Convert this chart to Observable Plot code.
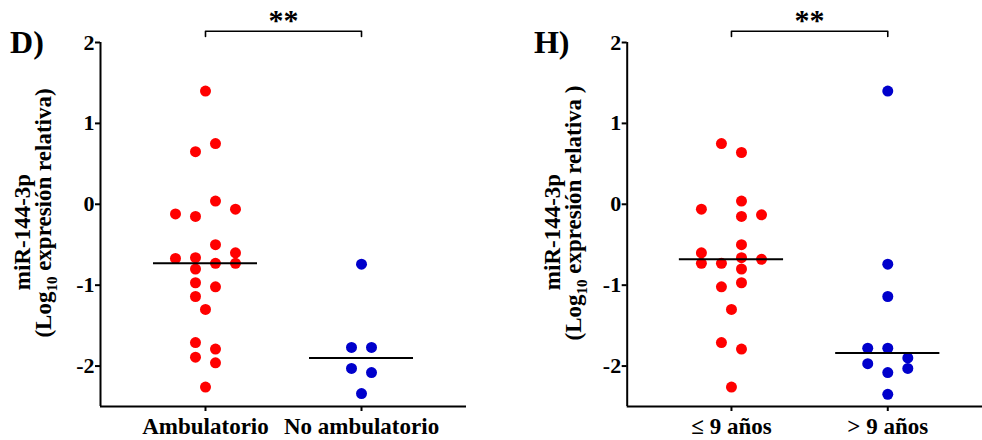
<!DOCTYPE html>
<html><head><meta charset="utf-8">
<script src="https://cdn.jsdelivr.net/npm/d3@7"></script>
<script src="https://cdn.jsdelivr.net/npm/@observablehq/plot@0.6"></script>
<style>
html,body{margin:0;padding:0;background:#fff;overflow:hidden;}
#wrap{position:relative;width:982px;height:440px;overflow:hidden;background:#fff;}
#wrap svg{position:absolute;top:0;}
#wrap svg text{font-family:'Liberation Serif','Times New Roman',serif;font-weight:bold;}
</style></head><body><div id="wrap"></div>
<script>
// ---- Panel D ----
const dCategories = ["Ambulatorio", "No ambulatorio"];
const dAmbulatorio = [1.40,0.75,0.65,0.04,-0.06,-0.12,-0.15,-0.50,-0.60,-0.67,-0.66,-0.73,-0.73,-0.80,-0.97,-1.02,-1.14,-1.30,-1.71,-1.79,-1.89,-1.96,-2.26];
const dAmbulatorioCol = [0,1,-1,1,3,-3,-1,1,3,-3,-1,1,3,-1,-1,1,-1,0,-1,1,-1,1,0];
const dNoAmbulatorio = [-0.74,-1.77,-1.77,-2.03,-2.08,-2.34];
const dNoAmbulatorioCol = [0,-1,1,-1,1,0];
// ---- Panel H ----
const hCategories = ["\u2264 9 a\u00f1os", "> 9 a\u00f1os"];
const hMenor9 = [0.75,0.64,0.04,-0.06,-0.13,-0.15,-0.50,-0.60,-0.73,-0.73,-0.66,-0.68,-0.80,-0.97,-1.02,-1.30,-1.71,-1.79,-2.26];
const hMenor9Col = [-1,1,1,-3,3,1,1,-3,-3,-1,1,3,1,1,-1,0,-1,1,0];
const hMayor9 = [1.40,-0.74,-1.14,-1.78,-1.78,-1.90,-1.97,-2.03,-2.08,-2.35];
const hMayor9Col = [0,0,0,-2,0,2,-2,2,0,0];

const yTicks = [-2, -1, 0, 1, 2];
const yDomain = [-2.5, 2];
const significance = "**";

const FONT = "'Liberation Serif', 'Times New Roman', serif";
const RED = "#ff0000", BLUE = "#0000cc";
const PX_PER_UNIT = 156;
const colStep = 10 / PX_PER_UNIT;
const medianHalf = 52 / PX_PER_UNIT;
const bracketLevel = 2.14, bracketDrop = 0.066;

function panel({cats, groups, width, marginLeft, marginRight, xDomain}) {
  const dots = [];
  groups.forEach((g, gi) => g.values.forEach((v, i) => dots.push({g: gi, v, col: g.cols[i], color: g.color})));
  const medians = groups.map((g, gi) => ({g: gi, m: d3.median(g.values)}));
  const bracket = [
    {x: 0, y: bracketLevel - bracketDrop}, {x: 0, y: bracketLevel},
    {x: 1, y: bracketLevel}, {x: 1, y: bracketLevel - bracketDrop}
  ];
  return Plot.plot({
    width, height: 440,
    marginLeft, marginRight, marginTop: 42, marginBottom: 34,
    style: {fontFamily: FONT, fontWeight: "bold", fontSize: "22px", color: "black", background: "transparent", overflow: "visible"},
    x: {type: "linear", domain: xDomain, axis: null},
    y: {domain: yDomain, axis: null},
    marks: [
      Plot.axisY({ticks: yTicks, tickFormat: d => String(d), tickSize: 5, tickPadding: 1, strokeWidth: 2, fontSize: 22, fontWeight: "bold", label: null}),
      Plot.axisX({ticks: [0, 1], tickFormat: i => cats[i], tickSize: 5, tickPadding: 6, strokeWidth: 2, fontSize: 23, fontWeight: "bold", label: null}),
      Plot.ruleX([xDomain[0]], {stroke: "black", strokeWidth: 2}),
      Plot.ruleY([yDomain[0]], {stroke: "black", strokeWidth: 2}),
      Plot.dot(dots, {x: d => d.g + d.col * colStep, y: "v", r: 5.5, fill: d => d.color, stroke: "none"}),
      Plot.ruleY(medians, {y: "m", x1: d => d.g - medianHalf, x2: d => d.g + medianHalf, stroke: "black", strokeWidth: 2}),
      Plot.line(bracket, {x: "x", y: "y", stroke: "black", strokeWidth: 1.6}),
      Plot.text([significance], {x: 0.5, y: bracketLevel, text: d => d, lineAnchor: "bottom", dy: -1.5, fontSize: 30, fontWeight: "bold", fill: "black"})
    ]
  });
}

function addLabels(svg, {title, titleX, line1X, line2X, line2Text}) {
  const s = d3.select(svg);
  s.append("text").attr("x", titleX).attr("y", 53)
    .attr("font-family", FONT).attr("font-weight", "bold").attr("font-size", 32).attr("fill", "black").text(title);
  s.append("text").attr("transform", `translate(${line1X},232) rotate(-90)`).attr("text-anchor", "middle")
    .attr("font-family", FONT).attr("font-weight", "bold").attr("font-size", 23).attr("fill", "black").text("miR-144-3p");
  const t = s.append("text").attr("transform", `translate(${line2X},213) rotate(-90)`).attr("text-anchor", "middle")
    .attr("font-family", FONT).attr("font-weight", "bold").attr("font-size", 23).attr("fill", "black");
  t.append("tspan").text("(Log");
  t.append("tspan").attr("font-size", 15).attr("dy", 6).text("10");
  t.append("tspan").attr("dy", -6).text(line2Text);
}

const wrap = document.getElementById("wrap");

const left = panel({
  cats: dCategories,
  groups: [{values: dAmbulatorio, cols: dAmbulatorioCol, color: RED}, {values: dNoAmbulatorio, cols: dNoAmbulatorioCol, color: BLUE}],
  width: 490, marginLeft: 100, marginRight: 24, xDomain: [-0.673, 1.673]
});
left.style.left = "0px";
wrap.appendChild(left);
addLabels(left, {title: "D)", titleX: 27, line1X: 30, line2X: 51, line2Text: " expresi\u00f3n relativa)"});

const right = panel({
  cats: hCategories,
  groups: [{values: hMenor9, cols: hMenor9Col, color: RED}, {values: hMayor9, cols: hMayor9Col, color: BLUE}],
  width: 492, marginLeft: 136.7, marginRight: 0, xDomain: [-0.667, 1.606]
});
right.style.left = "490px";
wrap.appendChild(right);
addLabels(right, {title: "H)", titleX: 61.7, line1X: 70, line2X: 91, line2Text: " expresi\u00f3n relativa )"});
</script>
</body></html>
